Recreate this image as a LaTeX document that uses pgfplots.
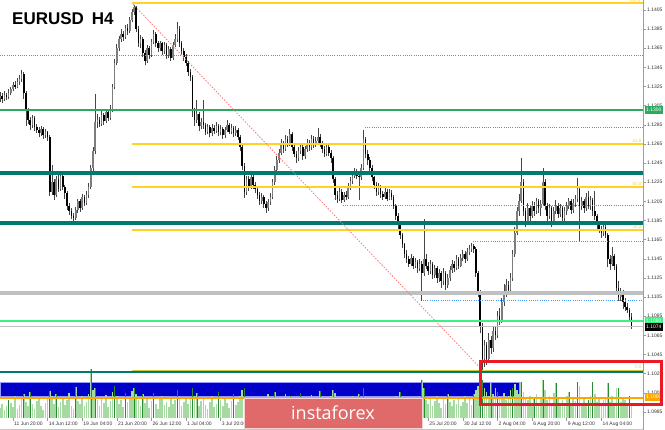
\documentclass[border=0pt]{standalone}
\usepackage{fontspec}
\setmainfont{Liberation Sans}
\newfontfamily\bannerfont{Open Sans}
\usepackage{pgfplots}
\pgfplotsset{compat=1.18}
\usepackage{pgfplotstable}

\definecolor{wickc}{RGB}{70,70,70}
\definecolor{bullc}{RGB}{125,125,125}
\definecolor{bearc}{RGB}{0,0,0}
\definecolor{volc}{RGB}{165,218,160}
\definecolor{vold}{RGB}{40,140,50}
\definecolor{fibc}{RGB}{255,210,40}
\definecolor{olivec}{RGB}{205,200,60}
\definecolor{tealc}{RGB}{0,122,112}
\definecolor{dotc}{RGB}{70,150,245}
\definecolor{grnc}{RGB}{45,170,95}
\definecolor{lgrnc}{RGB}{60,240,130}
\definecolor{grayc}{RGB}{192,192,192}
\definecolor{orangec}{RGB}{255,165,0}
\definecolor{bluec}{RGB}{0,0,200}
\definecolor{diagc}{RGB}{255,120,120}
\definecolor{redboxc}{RGB}{235,25,35}
\definecolor{bannerc}{RGB}{224,106,106}

\pgfplotstableread{
i o h l c v
0 1.1313 1.1319 1.1309 1.1315 10
1 1.1315 1.1318 1.1308 1.1312 14
2 1.1312 1.1320 1.1310 1.1316 8
3 1.1316 1.1318 1.1311 1.1314 12
4 1.1314 1.1322 1.1312 1.1318 18
5 1.1318 1.1325 1.1316 1.1322 15
6 1.1322 1.1330 1.1320 1.1327 11
7 1.1327 1.1331 1.1322 1.1325 22
8 1.1325 1.1334 1.1323 1.1330 9
9 1.1330 1.1337 1.1327 1.1333 13
10 1.1333 1.1342 1.1330 1.1338 20
11 1.1338 1.1340 1.1312 1.1318 24
12 1.1318 1.1320 1.1284 1.1300 16
13 1.1300 1.1303 1.1286 1.1290 12
14 1.1290 1.1293 1.1280 1.1285 26
15 1.1285 1.1295 1.1282 1.1292 14
16 1.1292 1.1294 1.1279 1.1283 9
17 1.1283 1.1286 1.1276 1.1280 17
18 1.1280 1.1283 1.1272 1.1276 21
19 1.1276 1.1284 1.1273 1.1281 12
20 1.1281 1.1283 1.1270 1.1274 8
21 1.1274 1.1281 1.1271 1.1277 15
22 1.1277 1.1279 1.1268 1.1272 19
23 1.1272 1.1274 1.1211 1.1215 27
24 1.1215 1.1243 1.1212 1.1225 22
25 1.1225 1.1228 1.1206 1.1212 14
26 1.1212 1.1232 1.1210 1.1228 24
27 1.1228 1.1233 1.1215 1.1218 11
28 1.1218 1.1237 1.1216 1.1232 16
29 1.1232 1.1234 1.1217 1.1220 20
30 1.1220 1.1222 1.1208 1.1214 13
31 1.1214 1.1216 1.1196 1.1200 18
32 1.1200 1.1203 1.1191 1.1195 25
33 1.1195 1.1198 1.1187 1.1190 12
34 1.1190 1.1193 1.1185 1.1188 9
35 1.1188 1.1199 1.1186 1.1196 31
36 1.1196 1.1208 1.1193 1.1205 17
37 1.1205 1.1207 1.1194 1.1198 14
38 1.1198 1.1213 1.1196 1.1210 22
39 1.1210 1.1212 1.1200 1.1203 12
40 1.1203 1.1216 1.1201 1.1212 16
41 1.1212 1.1224 1.1209 1.1220 24
42 1.1220 1.1243 1.1218 1.1240 49
43 1.1240 1.1262 1.1237 1.1258 28
44 1.1258 1.1317 1.1255 1.1288 30
45 1.1288 1.1296 1.1282 1.1290 18
46 1.1290 1.1293 1.1283 1.1286 12
47 1.1286 1.1299 1.1284 1.1295 20
48 1.1295 1.1297 1.1285 1.1289 15
49 1.1289 1.1301 1.1287 1.1298 23
50 1.1298 1.1300 1.1289 1.1292 11
51 1.1292 1.1306 1.1290 1.1300 17
52 1.1300 1.1328 1.1298 1.1325 26
53 1.1325 1.1354 1.1322 1.1350 32
54 1.1350 1.1369 1.1347 1.1365 22
55 1.1365 1.1378 1.1362 1.1375 14
56 1.1375 1.1385 1.1372 1.1380 18
57 1.1380 1.1383 1.1373 1.1377 11
58 1.1377 1.1389 1.1375 1.1386 25
59 1.1386 1.1390 1.1379 1.1383 16
60 1.1383 1.1398 1.1381 1.1395 20
61 1.1395 1.1406 1.1392 1.1403 27
62 1.1403 1.1410 1.1400 1.1408 30
63 1.1408 1.1409 1.1382 1.1385 24
64 1.1385 1.1388 1.1366 1.1370 18
65 1.1370 1.1379 1.1365 1.1375 12
66 1.1375 1.1377 1.1356 1.1360 24
67 1.1360 1.1363 1.1347 1.1352 15
68 1.1352 1.1368 1.1350 1.1365 21
69 1.1365 1.1367 1.1354 1.1358 10
70 1.1358 1.1375 1.1356 1.1372 17
71 1.1372 1.1384 1.1369 1.1380 25
72 1.1380 1.1382 1.1366 1.1370 14
73 1.1370 1.1373 1.1361 1.1365 9
74 1.1365 1.1373 1.1362 1.1370 19
75 1.1370 1.1372 1.1358 1.1362 22
76 1.1362 1.1371 1.1359 1.1368 13
77 1.1368 1.1370 1.1354 1.1358 16
78 1.1358 1.1367 1.1355 1.1364 11
79 1.1364 1.1366 1.1352 1.1355 20
80 1.1355 1.1371 1.1353 1.1368 14
81 1.1368 1.1380 1.1366 1.1375 18
82 1.1375 1.1392 1.1372 1.1385 28
83 1.1385 1.1388 1.1366 1.1370 22
84 1.1370 1.1373 1.1358 1.1362 12
85 1.1362 1.1365 1.1352 1.1356 16
86 1.1356 1.1359 1.1346 1.1350 20
87 1.1350 1.1352 1.1336 1.1340 14
88 1.1340 1.1343 1.1331 1.1335 19
89 1.1335 1.1337 1.1293 1.1300 30
90 1.1300 1.1303 1.1284 1.1290 22
91 1.1290 1.1311 1.1287 1.1296 25
92 1.1296 1.1298 1.1279 1.1284 12
93 1.1284 1.1292 1.1281 1.1288 17
94 1.1288 1.1311 1.1281 1.1285 20
95 1.1285 1.1287 1.1274 1.1278 13
96 1.1278 1.1286 1.1275 1.1283 9
97 1.1283 1.1285 1.1272 1.1276 16
98 1.1276 1.1286 1.1273 1.1282 22
99 1.1282 1.1285 1.1275 1.1279 11
100 1.1279 1.1288 1.1276 1.1284 14
101 1.1284 1.1286 1.1273 1.1277 26
102 1.1277 1.1285 1.1274 1.1281 18
103 1.1281 1.1283 1.1270 1.1274 12
104 1.1274 1.1283 1.1271 1.1280 20
105 1.1280 1.1290 1.1277 1.1285 15
106 1.1285 1.1287 1.1275 1.1278 10
107 1.1278 1.1286 1.1275 1.1282 17
108 1.1282 1.1284 1.1272 1.1276 24
109 1.1276 1.1284 1.1273 1.1280 13
110 1.1280 1.1282 1.1269 1.1272 16
111 1.1272 1.1274 1.1258 1.1262 22
112 1.1262 1.1265 1.1238 1.1242 28
113 1.1242 1.1245 1.1209 1.1215 30
114 1.1215 1.1232 1.1212 1.1228 18
115 1.1228 1.1231 1.1216 1.1220 12
116 1.1220 1.1234 1.1218 1.1230 15
117 1.1230 1.1233 1.1218 1.1222 20
118 1.1222 1.1225 1.1214 1.1218 11
119 1.1218 1.1220 1.1208 1.1212 17
120 1.1212 1.1215 1.1201 1.1205 14
121 1.1205 1.1214 1.1202 1.1210 21
122 1.1210 1.1212 1.1198 1.1202 9
123 1.1202 1.1205 1.1193 1.1198 18
124 1.1198 1.1208 1.1195 1.1204 24
125 1.1204 1.1214 1.1201 1.1210 12
126 1.1210 1.1228 1.1207 1.1225 16
127 1.1225 1.1242 1.1222 1.1238 26
128 1.1238 1.1252 1.1235 1.1248 20
129 1.1248 1.1260 1.1245 1.1256 15
130 1.1256 1.1270 1.1253 1.1265 12
131 1.1265 1.1268 1.1256 1.1260 18
132 1.1260 1.1274 1.1258 1.1270 24
133 1.1270 1.1273 1.1262 1.1266 10
134 1.1266 1.1281 1.1263 1.1275 22
135 1.1275 1.1277 1.1258 1.1262 16
136 1.1262 1.1265 1.1251 1.1255 13
137 1.1255 1.1258 1.1245 1.1250 19
138 1.1250 1.1262 1.1247 1.1258 11
139 1.1258 1.1266 1.1255 1.1262 25
140 1.1262 1.1264 1.1248 1.1252 15
141 1.1252 1.1263 1.1249 1.1260 12
142 1.1260 1.1270 1.1257 1.1266 20
143 1.1266 1.1269 1.1258 1.1262 17
144 1.1262 1.1274 1.1259 1.1270 23
145 1.1270 1.1273 1.1261 1.1265 10
146 1.1265 1.1272 1.1262 1.1268 18
147 1.1268 1.1282 1.1265 1.1272 14
148 1.1272 1.1275 1.1262 1.1266 27
149 1.1266 1.1268 1.1256 1.1260 16
150 1.1260 1.1263 1.1251 1.1255 12
151 1.1255 1.1266 1.1252 1.1262 19
152 1.1262 1.1264 1.1252 1.1256 15
153 1.1256 1.1259 1.1245 1.1250 22
154 1.1250 1.1252 1.1224 1.1228 28
155 1.1228 1.1230 1.1206 1.1212 25
156 1.1212 1.1216 1.1203 1.1208 14
157 1.1208 1.1219 1.1205 1.1215 10
158 1.1215 1.1218 1.1203 1.1206 18
159 1.1206 1.1215 1.1204 1.1212 12
160 1.1212 1.1216 1.1206 1.1210 16
161 1.1210 1.1224 1.1208 1.1220 20
162 1.1220 1.1230 1.1217 1.1226 13
163 1.1226 1.1236 1.1223 1.1232 22
164 1.1232 1.1240 1.1229 1.1236 17
165 1.1236 1.1239 1.1228 1.1232 11
166 1.1232 1.1235 1.1206 1.1230 24
167 1.1230 1.1244 1.1227 1.1240 19
168 1.1240 1.1280 1.1238 1.1270 30
169 1.1270 1.1272 1.1250 1.1255 22
170 1.1255 1.1259 1.1243 1.1248 15
171 1.1248 1.1251 1.1236 1.1240 18
172 1.1240 1.1243 1.1226 1.1230 12
173 1.1230 1.1232 1.1218 1.1222 20
174 1.1222 1.1225 1.1211 1.1215 14
175 1.1215 1.1224 1.1212 1.1220 16
176 1.1220 1.1222 1.1209 1.1213 10
177 1.1213 1.1216 1.1206 1.1210 19
178 1.1210 1.1219 1.1207 1.1215 13
179 1.1215 1.1218 1.1205 1.1208 17
180 1.1208 1.1218 1.1206 1.1214 12
181 1.1214 1.1217 1.1206 1.1210 15
182 1.1210 1.1212 1.1197 1.1200 20
183 1.1200 1.1202 1.1186 1.1190 22
184 1.1190 1.1193 1.1176 1.1180 18
185 1.1180 1.1183 1.1166 1.1170 26
186 1.1170 1.1172 1.1156 1.1160 14
187 1.1160 1.1162 1.1146 1.1150 16
188 1.1150 1.1154 1.1141 1.1145 12
189 1.1145 1.1148 1.1136 1.1140 19
190 1.1140 1.1150 1.1137 1.1146 15
191 1.1146 1.1148 1.1134 1.1138 20
192 1.1138 1.1146 1.1135 1.1142 13
193 1.1142 1.1144 1.1130 1.1135 17
194 1.1135 1.1145 1.1132 1.1140 22
195 1.1140 1.1143 1.1101 1.1130 38
196 1.1130 1.1187 1.1127 1.1145 30
197 1.1145 1.1150 1.1134 1.1138 18
198 1.1138 1.1142 1.1128 1.1132 14
199 1.1132 1.1144 1.1129 1.1140 20
200 1.1140 1.1142 1.1124 1.1128 12
201 1.1128 1.1139 1.1125 1.1135 17
202 1.1135 1.1137 1.1120 1.1125 22
203 1.1125 1.1134 1.1121 1.1130 15
204 1.1130 1.1132 1.1115 1.1122 10
205 1.1122 1.1135 1.1118 1.1130 19
206 1.1130 1.1132 1.1112 1.1118 14
207 1.1118 1.1129 1.1114 1.1125 24
208 1.1125 1.1138 1.1122 1.1133 16
209 1.1133 1.1144 1.1130 1.1140 12
210 1.1140 1.1143 1.1131 1.1135 18
211 1.1135 1.1149 1.1133 1.1145 14
212 1.1145 1.1147 1.1134 1.1138 20
213 1.1138 1.1150 1.1136 1.1146 12
214 1.1146 1.1154 1.1143 1.1150 16
215 1.1150 1.1153 1.1141 1.1145 22
216 1.1145 1.1156 1.1143 1.1152 15
217 1.1152 1.1159 1.1149 1.1155 19
218 1.1155 1.1161 1.1152 1.1158 13
219 1.1158 1.1160 1.1151 1.1155 24
220 1.1155 1.1157 1.1126 1.1130 28
221 1.1130 1.1132 1.1105 1.1110 32
222 1.1110 1.1112 1.1067 1.1075 36
223 1.1075 1.1078 1.1028 1.1040 38
224 1.1040 1.1060 1.1032 1.1055 30
225 1.1055 1.1058 1.1034 1.1040 26
226 1.1040 1.1067 1.1037 1.1060 22
227 1.1060 1.1064 1.1046 1.1052 35
228 1.1052 1.1074 1.1048 1.1070 24
229 1.1070 1.1075 1.1060 1.1065 30
230 1.1065 1.1090 1.1062 1.1085 26
231 1.1085 1.1094 1.1076 1.1080 22
232 1.1080 1.1104 1.1078 1.1100 20
233 1.1100 1.1119 1.1096 1.1110 25
234 1.1110 1.1124 1.1105 1.1118 18
235 1.1118 1.1122 1.1107 1.1112 22
236 1.1112 1.1130 1.1110 1.1125 28
237 1.1125 1.1154 1.1122 1.1150 30
238 1.1150 1.1178 1.1147 1.1172 34
239 1.1172 1.1199 1.1170 1.1195 28
240 1.1195 1.1213 1.1190 1.1205 24
241 1.1205 1.1250 1.1203 1.1225 36
242 1.1225 1.1228 1.1190 1.1195 26
243 1.1195 1.1198 1.1178 1.1185 20
244 1.1185 1.1203 1.1182 1.1198 18
245 1.1198 1.1201 1.1185 1.1190 22
246 1.1190 1.1205 1.1188 1.1200 15
247 1.1200 1.1204 1.1190 1.1195 19
248 1.1195 1.1209 1.1192 1.1205 24
249 1.1205 1.1207 1.1193 1.1198 14
250 1.1198 1.1206 1.1190 1.1202 20
251 1.1202 1.1240 1.1200 1.1225 38
252 1.1225 1.1228 1.1196 1.1200 28
253 1.1200 1.1203 1.1185 1.1190 18
254 1.1190 1.1202 1.1187 1.1198 22
255 1.1198 1.1200 1.1178 1.1185 14
256 1.1185 1.1199 1.1183 1.1195 25
257 1.1195 1.1206 1.1192 1.1200 35
258 1.1200 1.1203 1.1188 1.1192 20
259 1.1192 1.1202 1.1189 1.1198 12
260 1.1198 1.1200 1.1182 1.1188 18
261 1.1188 1.1199 1.1185 1.1195 15
262 1.1195 1.1204 1.1191 1.1200 22
263 1.1200 1.1209 1.1197 1.1205 26
264 1.1205 1.1207 1.1192 1.1196 14
265 1.1196 1.1207 1.1193 1.1203 20
266 1.1203 1.1212 1.1199 1.1208 17
267 1.1208 1.1229 1.1204 1.1218 36
268 1.1218 1.1221 1.1164 1.1200 32
269 1.1200 1.1210 1.1196 1.1205 15
270 1.1205 1.1208 1.1193 1.1198 20
271 1.1198 1.1214 1.1195 1.1210 14
272 1.1210 1.1216 1.1197 1.1200 18
273 1.1200 1.1211 1.1196 1.1206 22
274 1.1206 1.1209 1.1190 1.1195 36
275 1.1195 1.1216 1.1186 1.1190 24
276 1.1190 1.1192 1.1176 1.1180 16
277 1.1180 1.1184 1.1172 1.1176 20
278 1.1176 1.1179 1.1167 1.1172 14
279 1.1172 1.1181 1.1169 1.1178 18
280 1.1178 1.1180 1.1167 1.1170 20
281 1.1170 1.1172 1.1136 1.1145 35
282 1.1145 1.1149 1.1133 1.1140 16
283 1.1140 1.1157 1.1137 1.1148 22
284 1.1148 1.1150 1.1133 1.1138 14
285 1.1138 1.1140 1.1110 1.1115 30
286 1.1115 1.1122 1.1101 1.1105 30
287 1.1105 1.1114 1.1101 1.1110 16
288 1.1110 1.1112 1.1093 1.1100 20
289 1.1100 1.1104 1.1091 1.1095 18
290 1.1095 1.1099 1.1088 1.1092 14
291 1.1092 1.1094 1.1080 1.1084 22
292 1.1084 1.1088 1.1072 1.1074 12
}\candles

\pgfplotsset{chartbase/.style={at={(0pt,12pt)}, anchor=south west, scale only axis,
  width=643pt, height=418pt, xmin=0, xmax=297.27}}

\begin{document}
\begin{tikzpicture}[x=1pt,y=1pt]
\useasboundingbox (0,0) rectangle (665,430);

% axis 1: background rectangle and candles
\begin{axis}[chartbase, ymin=1.09787, ymax=1.14154, hide axis]
\addplot[fill=bluec, draw=blue!40!white, line width=0.5pt] coordinates {(0,1.10163) (240,1.10163) (240,1.10017) (0,1.10017)} -- cycle;
\addplot[draw=none, mark=none, forget plot,
  error bars/.cd, y dir=plus, y explicit, error mark=none,
  error bar style={draw=wickc, line width=0.8pt}]
  table[x=i, y=l, y error plus expr=\thisrow{h}-\thisrow{l}] {\candles};
\addplot[draw=none, mark=none, forget plot,
  restrict expr to domain={\thisrow{c}-\thisrow{o}}{0:1},
  error bars/.cd, y dir=plus, y explicit, error mark=none,
  error bar style={draw=bullc, line width=1.6pt}]
  table[x=i, y=o, y error plus expr=\thisrow{c}-\thisrow{o}] {\candles};
\addplot[draw=none, mark=none, forget plot,
  restrict expr to domain={\thisrow{o}-\thisrow{c}}{0.00001:1},
  error bars/.cd, y dir=plus, y explicit, error mark=none,
  error bar style={draw=bearc, line width=1.6pt}]
  table[x=i, y=c, y error plus expr=\thisrow{o}-\thisrow{c}] {\candles};
\end{axis}

% axis 2: volumes
\begin{axis}[chartbase, ymin=0, ymax=418, hide axis]
\addplot[ycomb, draw=volc, line width=1.6pt, mark=none] table[x=i, y=v] {\candles};
\addplot[ycomb, draw=vold, line width=0.6pt, mark=none] coordinates {
(4,18) (11,24) (14,26) (23,27) (26,24) (35,31) (42,49) (44,30) (53,32) (58,25)
(62,30) (66,24) (71,25) (82,28) (89,30) (91,25) (101,26) (108,24) (113,30) (117,20)
(127,26) (134,22) (139,25) (148,27) (154,28) (166,24) (168,30) (177,19) (185,26) (195,38)
(196,30) (207,24) (219,24) (222,36) (223,38) (227,35) (230,26) (237,30) (241,36) (247,19)
(251,38) (257,35) (263,26) (267,36) (272,18) (274,36) (281,35) (286,30) (291,22)};
\end{axis}

% axis 3: levels, ticks
\begin{axis}[chartbase, ymin=1.09787, ymax=1.14154,
  axis line style={draw=none},
  tick style={draw=gray!80, line width=0.5pt},
  major tick length=3pt, tick align=outside,
  xtick pos=bottom, ytick pos=right, yticklabel pos=right,
  scaled y ticks=false,
  ytick={1.0985,1.1005,1.1025,1.1045,1.1065,1.1085,1.1105,1.1125,1.1145,1.1165,1.1185,1.1205,1.1225,1.1245,1.1265,1.1285,1.1305,1.1325,1.1345,1.1365,1.1385,1.1405},
  /pgf/number format/.cd, fixed, fixed zerofill, precision=4, assume math mode=true, /pgfplots/.cd,
  yticklabel style={font=\fontsize{5}{6}\selectfont, text=black!80, anchor=west, inner sep=1pt},
  xtick={6,22,38,54,70,86,102,198,214,230,246,262,278},
  xticklabels={11 Jun 20:00,14 Jun 12:00,19 Jun 04:00,21 Jun 20:00,26 Jun 12:00,1 Jul 04:00,3 Jul 20:00,25 Jul 20:00,30 Jul 12:00,2 Aug 04:00,6 Aug 20:00,9 Aug 12:00,14 Aug 04:00},
  xticklabel style={font=\fontsize{5}{6}\selectfont, text=black!80, anchor=north west, inner sep=0.5pt, xshift=0.5pt},
]
% Fibonacci levels
\addplot[fibc, line width=1.8pt] coordinates {(61,1.1412) (297.27,1.1412)};
\addplot[fibc, line width=1.8pt] coordinates {(61,1.1265) (297.27,1.1265)};
\addplot[fibc, line width=1.8pt] coordinates {(61,1.1220) (297.27,1.1220)};
\addplot[fibc, line width=1.8pt] coordinates {(61,1.1175) (297.27,1.1175)};
% dotted blue levels
\addplot[dotc, line width=0.8pt, dash pattern=on 1pt off 1.2pt] coordinates {(0,1.1358) (297.27,1.1358)};
\addplot[dotc, line width=0.8pt, dash pattern=on 1pt off 1.2pt] coordinates {(168.7,1.1282) (297.27,1.1282)};
\addplot[dotc, line width=0.8pt, dash pattern=on 1pt off 1.2pt] coordinates {(158.6,1.1201) (297.27,1.1201)};
\addplot[dotc, line width=0.8pt, dash pattern=on 1pt off 1.2pt] coordinates {(218.7,1.1163) (297.27,1.1163)};
\addplot[dotc, line width=0.8pt, dash pattern=on 1pt off 1.2pt] coordinates {(195.6,1.1102) (297.27,1.1102)};
% solid levels
\addplot[grnc, line width=2pt] coordinates {(0,1.1300) (297.27,1.1300)};
\addplot[tealc, line width=4pt] coordinates {(0,1.12346) (297.27,1.12346)};
\addplot[tealc, line width=4pt] coordinates {(0,1.11824) (297.27,1.11824)};
\addplot[grayc, line width=4pt] coordinates {(0,1.11093) (297.27,1.11093)};
\addplot[lgrnc, line width=2.5pt] coordinates {(0,1.1080) (297.27,1.1080)};
\addplot[grayc, line width=0.9pt] coordinates {(0,1.1074) (297.27,1.1074)};
\addplot[olivec, line width=1.4pt] coordinates {(61,1.1028) (297.27,1.1028)};
\addplot[tealc, line width=1.4pt] coordinates {(0,1.10267) (297.27,1.10267)};
\addplot[orangec, line width=2pt] coordinates {(0,1.1000) (297.27,1.1000)};
% diagonal Fibonacci line
\addplot[diagc, line width=0.8pt, dash pattern=on 1.5pt off 1.5pt] coordinates {(61.5,1.1411) (223.3,1.1028)};
\end{axis}

% right axis line and bottom rule
\draw[gray!75, line width=1.6pt] (643.5,0) -- (643.5,430);
\draw[gray!45, line width=0.8pt] (0,1) -- (643,1);

% title
\node[anchor=base west, inner sep=0pt] at (12,405) {\fontsize{17}{17}\selectfont\bfseries EURUSD\hspace{8pt}H4};

% fib labels
\begin{scope}[every node/.style={anchor=south east, inner sep=0.4pt, text=fibc, font=\fontsize{4.5}{5}\selectfont}]
\node[anchor=north east] at (641,430) {100.0};
\node at (642,287) {61.8};
\node at (642,244) {50.0};
\node at (642,201) {38.2};
\node at (642,61) {0.0};
\end{scope}

% price boxes at right
\begin{scope}[every node/.style={anchor=west, inner xsep=1.5pt, inner ysep=0pt, minimum height=7.5pt, text=white, font=\fontsize{5}{6}\selectfont}]
\node[fill=grnc] at (644.5,320) {1.1300};
\node[fill=lgrnc] at (644.5,109.5) {1.1080};
\node[fill=black] at (644.5,103) {1.1074};
\node[fill=orangec] at (644.5,33) {1.1000};
\end{scope}

% banner
\fill[bannerc] (244,2) rectangle (422,32);
\draw[white!70!bannerc, line width=0.6pt] (244,2) rectangle (422,32);
\node[text=white, inner sep=0pt] at (333,17) {\bannerfont\fontsize{18}{18}\selectfont instaforex};

% red box
\draw[redboxc, line width=3pt] (480.5,68.5) rectangle (661.5,25);
\end{tikzpicture}
\end{document}
